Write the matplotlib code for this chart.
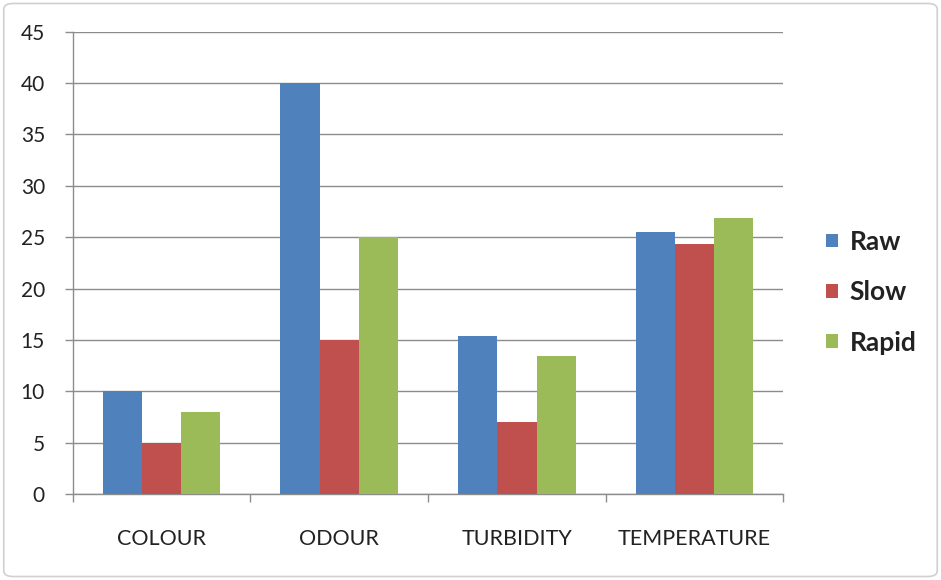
import matplotlib
matplotlib.use('Agg')
import matplotlib.pyplot as plt
from matplotlib.patches import FancyBboxPatch, Patch
import numpy as np

categories = ['COLOUR', 'ODOUR', 'TURBIDITY', 'TEMPERATURE']
raw = [10, 40, 15.4, 25.5]
slow = [5, 15, 7, 24.3]
rapid = [8, 25, 13.4, 26.9]
series_names = ['Raw', 'Slow', 'Rapid']
colors = ['#4F81BD', '#C0504D', '#9BBB59']

plt.rcParams['font.family'] = ['Lato', 'DejaVu Sans']
grid_color = '#8c8c8c'
text_color = '#222222'

fig = plt.figure(figsize=(9.41, 5.8), dpi=100)
ax = fig.add_axes([0.0773, 0.1483, 0.7552, 0.797])

x = np.arange(len(categories))
w = 0.221
for i, (vals, c) in enumerate(zip([raw, slow, rapid], colors)):
    ax.bar(x + (i - 1) * w, vals, width=w, color=c, zorder=3)

ax.set_xlim(-0.5, 3.5)
ax.set_ylim(0, 45)
ax.set_yticks(range(0, 46, 5))
ax.yaxis.grid(True, color=grid_color, linewidth=1.0, zorder=0)

# category boundaries get tick marks, labels sit on minor ticks at centres
ax.set_xticks(np.arange(-0.5, 4, 1))
ax.set_xticklabels([])
ax.set_xticks(x, minor=True)
ax.set_xticklabels(categories, minor=True, fontsize=15.5, color=text_color)
ax.tick_params(axis='x', which='major', length=6, color=grid_color, width=1)
ax.tick_params(axis='x', which='minor', length=0, pad=25.5)
ax.tick_params(axis='y', length=6, color=grid_color, width=1, pad=14,
               labelsize=15, labelcolor=text_color)

for side in ['top', 'right']:
    ax.spines[side].set_visible(False)
for side in ['left', 'bottom']:
    ax.spines[side].set_color(grid_color)
    ax.spines[side].set_linewidth(1.0)

handles = [Patch(facecolor=c, edgecolor='none') for c in colors]
leg = fig.legend(handles, series_names, loc='center left',
                 bbox_to_anchor=(0.853, 0.496), frameon=False,
                 prop={'weight': 'bold', 'size': 19},
                 handlelength=0.42, handleheight=0.42, handletextpad=0.45,
                 labelspacing=1.0)
for t in leg.get_texts():
    t.set_color(text_color)

border = FancyBboxPatch((0.004, 0.006), 0.992, 0.988,
                        boxstyle='round,pad=0,rounding_size=0.01',
                        transform=fig.transFigure, fill=False,
                        edgecolor='#d0d0d0', linewidth=1.2)
fig.patches.append(border)

fig.savefig('out.png', dpi=100)
